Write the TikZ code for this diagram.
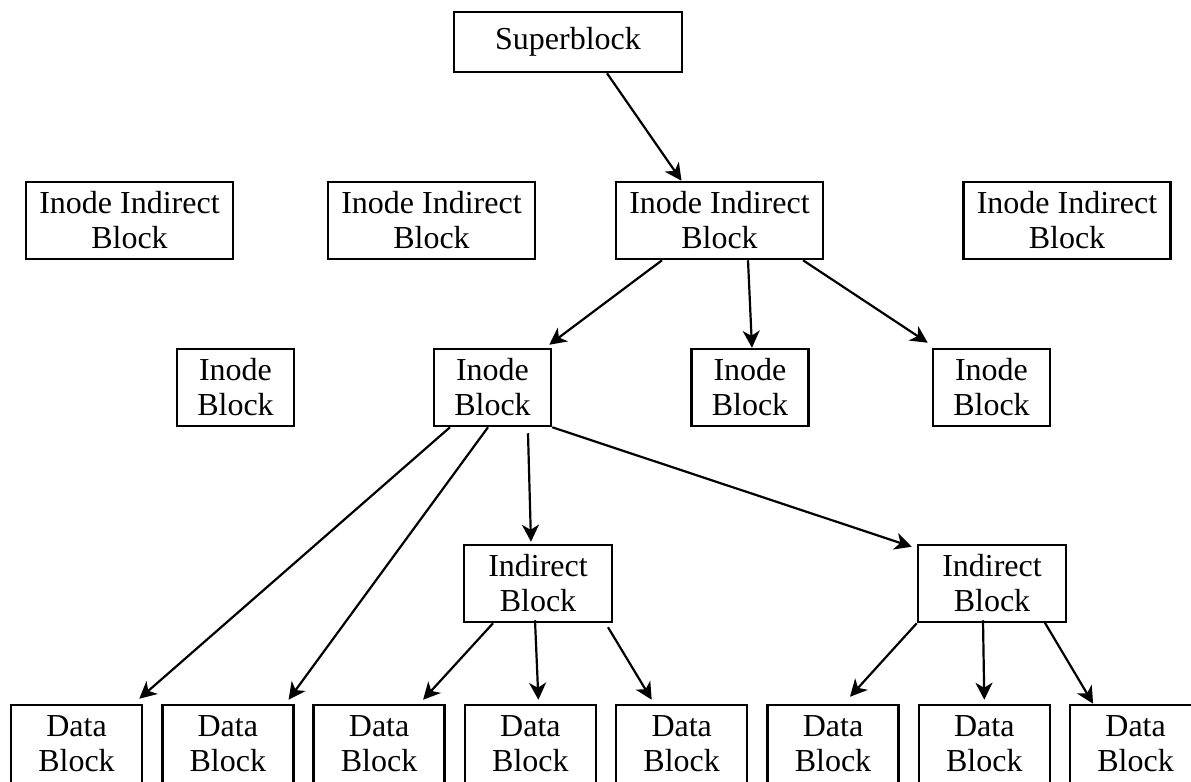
\documentclass[tikz,border=0pt]{standalone}
\usepackage{fontspec}
\setmainfont{Liberation Serif}
\usetikzlibrary{arrows.meta,calc}

\begin{document}
\begin{tikzpicture}[x=0.5pt,y=-0.5pt,
  blk/.style={draw,line width=1.25pt,inner sep=0pt,align=center,minimum height=38.5pt,font=\fontsize{16}{17.5}\selectfont},
  superblk/.style={blk,minimum width=114pt,minimum height=30pt},
  inodeind/.style={blk,minimum width=103.5pt},
  inodeblk/.style={blk,minimum width=58.5pt},
  indblk/.style={blk,minimum width=74pt},
  datablk/.style={blk,minimum width=65.5pt,minimum height=39pt},
  link/.style={-{Stealth[length=8.5pt,width=8.5pt,inset=2.5pt]},line width=1.1pt}]
\useasboundingbox (0,0) rectangle (1191,782);
% top
\node[superblk] (sb) at (568,42) {Superblock};
% inode indirect blocks
\foreach \x [count=\i] in {129.5,431.5,719.5,1067}
  \node[inodeind] (iib\i) at (\x,220.5) {Inode Indirect\\Block};
% inode blocks
\foreach \x [count=\i] in {235.5,492.5,750,991.5}
  \node[inodeblk] (inb\i) at (\x,387.5) {Inode\\Block};
% indirect blocks
\node[indblk] (ib1) at (538,583.5) {Indirect\\Block};
\node[indblk] (ib2) at (992,583.5) {Indirect\\Block};
% data blocks
\foreach \i in {1,...,8}
  \node[datablk] (d\i) at ({76.5+151.3*(\i-1)},744) {Data\\Block};

\draw[link] ($(sb.south)+(39,0)$) -- ($(iib3.north)+(-38,0)$);
\draw[link] ($(iib3.south)+(-57.5,0)$) -- ($(inb2.north east)+(-3,-3)$);
\draw[link] ($(iib3.south)+(28.5,0)$) -- ($(inb3.north)+(2,0)$);
\draw[link] ($(iib3.south)+(83.5,0)$) -- ($(inb4.north west)+(-4,-5)$);

\draw[link] ($(inb2.south)+(-42.5,0)$) -- ($(d1.north east)+(-4,-5)$);
\draw[link] ($(inb2.south)+(-4.5,0)$) -- ($(d2.north east)+(-6,-4)$);
\draw[link] ($(inb2.south)+(35.5,6)$) -- ($(ib1.north)+(-7,-2)$);
\draw[link] (inb2.south east) -- ($(ib2.north west)+(-5,3)$);

\draw[link] ($(ib1.south)+(-45,0)$) -- ($(d3.north)+(44,-4)$);
\draw[link] ($(ib1.south)+(-3,-3)$) -- ($(d4.north)+(8,-4)$);
\draw[link] ($(ib1.south)+(70,4)$) -- ($(d5.north)+(-30,-4)$);

\draw[link] (ib2.south west) -- ($(d6.north)+(17,-7)$);
\draw[link] ($(ib2.south)+(-9,-3)$) -- ($(d7.north)+(0,-4)$);
\draw[link] ($(ib2.south)+(52,-2)$) -- ($(d8.north)+(-42.5,0)$);
\end{tikzpicture}
\end{document}
